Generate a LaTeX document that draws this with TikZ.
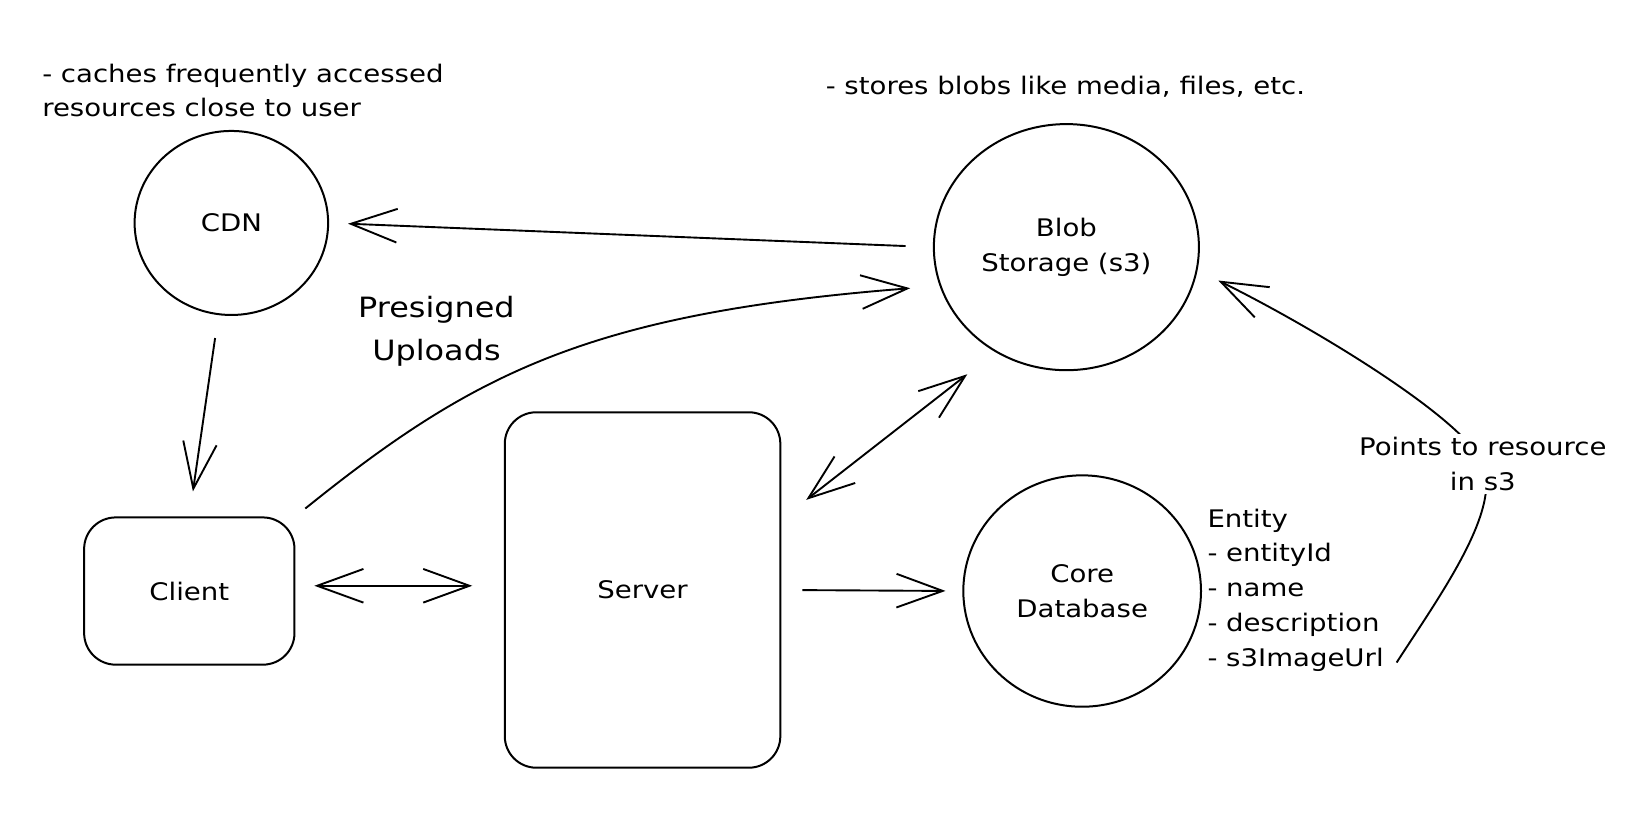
\documentclass[tikz,border=0pt]{standalone}
\usepackage{fontspec}
\setmainfont{DejaVu Sans}[FakeStretch=1.14]
\usetikzlibrary{arrows.meta,shapes.geometric,calc}
\begin{document}
\begin{tikzpicture}[x=1pt,y=-1pt,
  every node/.style={font=\fontsize{23}{33}\selectfont},
  shp/.style={draw, line width=1.9pt},
  ell/.style={shp, ellipse, inner sep=0pt},
  rbox/.style={shp, rectangle, rounded corners=30pt, inner sep=0pt},
  conn/.style={line width=1.8pt, >={Straight Barb[length=44pt,width=32pt]}},
  note/.style={align=left, inner sep=0pt},
  big/.style={font=\fontsize{26.6}{40}\selectfont, align=center}
]
\useasboundingbox (0,0) rectangle (1568,787);

% shapes
\node[ell, minimum width=184pt, minimum height=175pt] (cdn) at (220,212) {CDN};
\node[ell, minimum width=252pt, minimum height=234pt, align=center] (blob) at (1014,235) {Blob\\Storage (s3)};
\node[ell, minimum width=226pt, minimum height=220pt, align=center] (core) at (1029,562) {Core\\Database};
\node[rbox, minimum width=200pt, minimum height=140pt] (client) at (180,562) {Client};
\node[rbox, minimum width=262pt, minimum height=338pt] (server) at (611,561) {Server};

% annotations
\node[note, anchor=west] (cdnnote) at (40,86) {- caches frequently accessed\\resources close to user};
\node[note, anchor=west] (blobnote) at (785,82) {- stores blobs like media, files, etc.};
\node[note, anchor=west] (ent) at (1148,561) {Entity\\- entityId\\- name\\- description\\- s3ImageUrl};
\node[big] (presign) at (415,315) {Presigned\\Uploads};

% connectors
\draw[conn,->, shorten <=26pt, shorten >=18pt] (blob.west) -- (cdn.east);
\draw[conn,->, shorten <=22pt, shorten >=24pt] (cdn.262) -- (client.north);
\draw[conn,->, shorten <=12pt, shorten >=28pt] (client.north east) .. controls (450,355) and (560,298) .. (blob.197);
\draw[conn,<->, shorten <=18pt, shorten >=30pt] ([yshift=5pt]client.east) -- ([yshift=4pt]server.west);
\draw[conn,<->, shorten <=30pt, shorten >=34pt] (server.27) -- (blob.236);
\draw[conn,->, shorten <=20pt, shorten >=16pt] (server.east) -- (core.west);

\coordinate (urlend) at (1328,630);
\coordinate (ptsc) at (1410,441);
\draw[conn,->, shorten >=22pt] (urlend) .. controls (1370,565) and (1428,485) .. (ptsc)
  .. controls (1392,398) and (1250,312) .. (blob.350);
\node[fill=white, align=center, inner sep=3pt] (pts) at (ptsc) {Points to resource\\in s3};
\end{tikzpicture}
\end{document}
